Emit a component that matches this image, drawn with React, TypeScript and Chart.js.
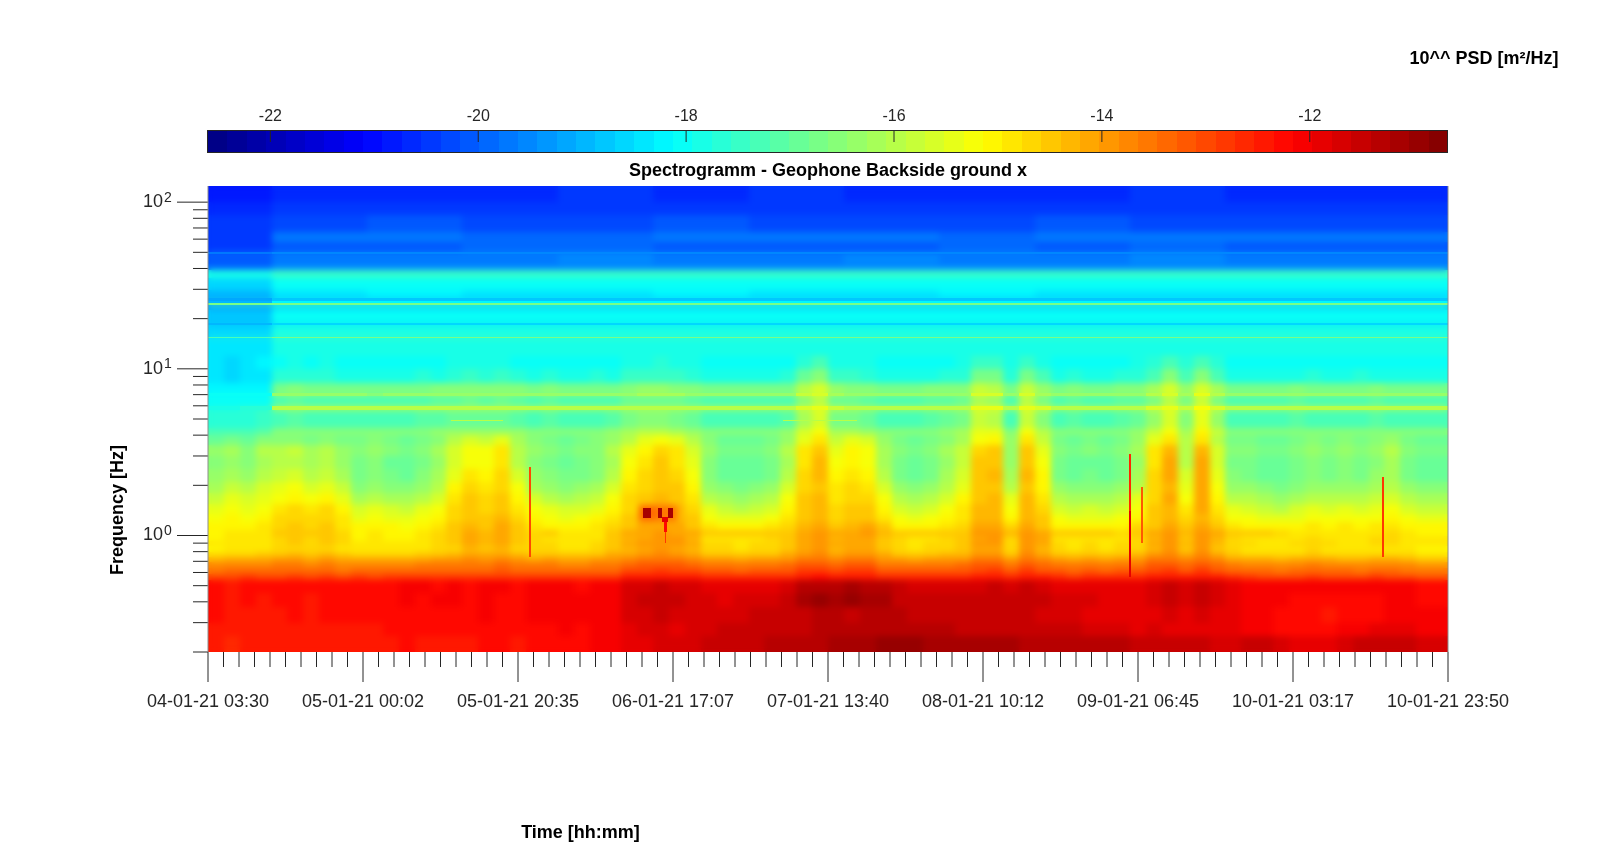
import React, { useEffect, useRef } from "react";
import { Chart, registerables } from "chart.js";

Chart.register(...registerables);

// Time axis: hours after the first sample
const timeSpanHours = 164.33;
const timeTickLabels = ["04-01-21 03:30","05-01-21 00:02","05-01-21 20:35","06-01-21 17:07","07-01-21 13:40","08-01-21 10:12","09-01-21 06:45","10-01-21 03:17","10-01-21 23:50"];
const freqTicks = [100,90,80,70,60,50,40,30,20,10,9,8,7,6,5,4,3,2,1,0.9,0.8,0.7,0.6,0.5,0.4,0.3,0.2];
const colourTicks = [-22,-20,-18,-16,-14,-12];

// All PSD values below are tenths of -log10 PSD (152 means 10^-15.2).
// Upper bands: band edges in Hz, and coarse time columns (indices into the 78 fine columns).
const upperFreqEdges = [125,100,84,66,58,50,49,42.5,39,35,29.7,26.6,25.5,25,24.3,22.6,20.7,18.9,18.3,15.6,15.3,12];
const upperCols = [0,4,10,16,22,28,34,40,46,52,58,64,70,78];
const up01 = [208,206,206,206,205,206,205,206,206,206,205,206,206];
const up02 = [207,204,204,205,205,204,204,205,204,205,204,204,205];
const up03 = [205,202,201,202,202,201,202,202,202,201,202,202,202];
const up04 = [204,198,198,199,199,198,197,198,199,198,198,198,198];
const up05 = [204,200,200,199,199,200,200,200,199,200,199,200,200];
const up06 = [197,195,195,195,195,195,195,195,195,195,195,195,195];
const up07 = [201,197,197,197,196,197,197,196,197,197,196,197,197];
const up08 = [199,195,196,195,195,196,195,195,196,195,195,195,195];
const up09 = [178,175,174,175,175,174,175,175,174,175,175,175,175];
const up10 = [186,181,181,181,181,181,181,181,181,181,181,181,181];
const up11 = [189,184,183,184,184,183,184,184,183,184,184,184,184];
const up12 = [192,187,187,187,187,187,187,187,187,187,187,187,187];
const up13 = [190,183,183,182,183,183,182,183,183,182,183,183,183];
const up14 = [168,168,168,168,168,168,168,168,168,168,168,168,168];
const up15 = [191,186,186,185,186,186,185,186,186,185,186,186,186];
const up16 = [188,181,181,181,181,180,181,181,181,181,181,181,181];
const up17 = [188,181,181,181,181,181,181,181,181,181,181,181,181];
const up18 = [189,186,186,186,186,186,186,186,186,186,186,186,186];
const up19 = [185,179,179,179,179,179,179,179,179,179,179,179,179];
const up20 = [172,167,167,167,167,167,167,167,167,167,167,167,167];
const up21 = [184,179,179,179,179,179,179,179,179,179,179,179,179];
const upperRows = [up01,up02,up03,up04,up05,up06,up07,up08,up09,up10,up11,up12,up13,up14,up15,up16,up17,up18,up19,up20,up21];

// Lower bands: 78 time columns each
const lowerFreqEdges = [12,10,8.2,7.2,6.9,6.0,5.7,4.4,4.0,3.5,3.0,2.5,2.1,1.8,1.55,1.35,1.2,1.08,1.0,0.93,0.86,0.8,0.74,0.69,0.64,0.59,0.54,0.45,0.37,0.3,0.25,0.2];
const lo01 = [184,185,184,183, 180,179,180,179,181, 180,181,180,181,180,180, 179,178,179,178,180, 180,181,180,181,180,180, 179,178,177,178,179, 181,180,181,180,181,180, 176,173,178,179,179,180, 180,181,180,180, 179,174,175,179,174,178, 180,181,180,181,180, 179,177,173,177,173,177,180, 180,181,180,181,180,181,180,180,181,180,181,180,180];
const lo02 = [184,185,184,184, 177,176,177,176,178, 178,179,178,178,177,178, 176,175,176,175,177, 178,177,178,178,177,178, 175,174,174,175,176, 178,178,179,178,178,177, 170,165,174,175,176,178, 178,179,178,177, 176,167,168,177,167,173, 178,177,178,178,177, 176,172,165,173,165,172,178, 178,178,179,178,177,178,178,177,178,178,178,179,178];
const lo03 = [183,183,182,182, 167,166,167,167,167, 167,168,167,167,167,166, 166,165,166,165,166, 167,166,167,167,167,167, 165,164,164,165,166, 167,167,167,168,167,167, 160,157,164,165,166,167, 167,167,166,166, 165,158,160,167,158,163, 167,166,167,167,166, 166,162,157,164,156,162,167, 167,167,167,166,167,167,167,167,166,167,167,168,167];
const lo04 = [181,180,181,180, 164,164,164,164,164, 164,165,164,164,164,164, 163,163,163,163,164, 164,164,164,164,164,164, 163,162,162,162,163, 164,164,164,164,164,164, 158,156,162,163,163,164, 164,164,164,164, 163,156,157,164,156,161, 164,164,164,164,164, 163,160,156,162,155,160,164, 164,164,164,164,164,164,164,164,164,164,164,164,164];
const lo05 = [181,181,180,180, 172,171,172,172,172, 172,173,172,172,172,171, 171,170,171,170,171, 172,171,172,172,172,172, 170,169,169,170,171, 172,172,172,173,172,172, 165,160,169,170,171,172, 172,172,171,171, 170,162,164,172,160,168, 172,171,172,172,171, 171,167,160,168,158,167,172, 172,172,172,171,172,172,172,172,171,172,172,173,172];
const lo06 = [178,178,177,177, 160,160,160,160,160, 160,160,160,160,160,160, 160,159,160,159,160, 160,160,160,160,160,160, 159,159,159,159,160, 160,160,160,160,160,160, 156,154,158,159,159,160, 160,160,160,160, 159,155,155,160,154,157, 160,160,160,160,160, 159,157,154,158,153,157,160, 160,160,160,160,160,160,160,160,160,160,160,160,160];
const lo07 = [177,176,176,175, 172,171,172,172,172, 172,173,172,172,171,171, 170,169,170,169,171, 172,171,172,172,172,171, 168,166,166,167,169, 172,172,172,173,172,171, 162,157,168,167,169,172, 172,172,171,170, 168,158,160,172,158,166, 172,171,172,172,171, 170,164,156,166,155,164,172, 172,172,172,171,172,172,172,172,171,172,172,173,172];
const lo08 = [173,172,172,171, 165,165,165,165,165, 165,166,165,165,165,164, 164,163,164,163,164, 165,165,165,165,165,164, 162,160,160,161,163, 165,165,165,166,165,164, 157,152,162,161,163,165, 165,165,165,164, 162,154,155,165,153,160, 165,165,165,165,165, 164,158,152,161,151,158,165, 165,165,165,165,165,165,165,165,165,165,165,166,165];
const lo09 = [170,168,170,166, 166,165,167,166,168, 168,166,168,170,167,165, 160,156,158,154,162, 166,168,170,168,166,164, 160,155,152,154,160, 166,170,170,170,168,164, 154,149,158,154,156,164, 168,170,168,166, 162,152,150,164,149,158, 168,170,168,170,168, 164,154,149,160,149,160,168, 168,170,170,168,166,168,166,168,166,164,168,170,170];
const lo10 = [164,162,166,160, 160,158,162,160,163, 166,164,166,168,165,162, 156,152,153,149,159, 164,166,168,166,165,160, 155,150,146,149,156, 164,168,168,168,166,160, 149,144,154,151,152,161, 166,168,166,162, 158,146,144,163,144,154, 166,168,166,168,166, 161,149,143,159,143,157,166, 166,168,168,166,164,166,164,166,164,160,166,168,168];
const lo11 = [166,163,165,162, 160,159,162,160,164, 168,166,169,170,167,164, 156,152,153,149,159, 166,168,170,168,166,162, 152,148,145,148,154, 166,170,170,170,168,162, 148,143,152,150,152,161, 168,170,168,164, 158,145,144,164,144,153, 168,170,169,170,168, 163,148,142,159,141,157,168, 168,170,170,168,166,168,166,168,165,162,168,170,170];
const lo12 = [164,161,163,160, 158,156,160,158,162, 167,165,168,169,166,162, 154,149,151,147,156, 164,166,168,167,165,160, 151,147,144,146,152, 165,169,170,169,167,160, 146,143,150,148,150,160, 167,169,167,162, 156,144,143,162,143,151, 167,169,168,169,167, 161,147,142,157,141,154,166, 167,169,170,168,165,167,165,167,164,161,167,169,169];
const lo13 = [162,158,160,157, 155,153,156,154,158, 165,163,165,166,163,160, 151,147,149,146,153, 161,163,165,164,162,157, 149,146,144,145,150, 163,166,167,166,164,157, 146,144,149,147,148,157, 164,166,164,160, 154,144,144,159,144,150, 164,166,165,166,164, 159,147,143,155,142,152,163, 164,166,167,165,163,164,163,164,162,159,164,166,166];
const lo14 = [158,155,157,154, 152,150,153,151,154, 161,159,161,162,159,156, 148,145,147,144,150, 157,159,161,160,158,153, 147,145,143,144,148, 159,162,163,162,160,153, 145,143,148,146,146,153, 160,162,160,156, 151,144,143,155,143,148, 160,162,161,162,160, 155,146,142,152,142,150,159, 160,162,163,161,159,160,159,160,158,156,160,162,162];
const lo15 = [155,153,154,152, 148,146,148,147,150, 157,155,157,158,155,152, 147,144,146,144,148, 153,155,157,156,154,150, 146,144,142,143,146, 155,158,159,158,156,150, 144,143,147,145,145,150, 156,158,156,152, 149,143,143,152,143,146, 156,158,157,158,156, 152,145,143,149,142,148,155, 156,158,159,157,155,156,155,156,155,153,156,158,158];
const lo16 = [153,151,152,150, 147,146,147,146,149, 154,152,154,155,152,150, 146,144,145,143,147, 150,152,154,153,151,148, 145,143,142,143,145, 152,155,155,155,153,148, 144,143,146,144,144,148, 153,155,153,150, 148,143,143,150,143,145, 153,155,154,155,153, 150,145,143,147,143,146,152, 153,155,155,154,152,153,152,153,152,150,153,155,155];
const lo17 = [151,150,150,149, 146,145,146,145,148, 151,150,151,152,150,148, 145,143,144,142,145, 148,150,151,150,149,146, 144,142,141,142,144, 149,150,151,150,149,146, 143,142,144,143,142,145, 150,151,150,148, 146,142,142,147,142,144, 150,151,150,151,150, 147,144,142,145,142,144,149, 150,151,151,150,149,150,149,150,149,148,150,151,151];
const lo18 = [150,149,149,148, 145,145,145,145,147, 150,149,150,150,149,147, 144,142,143,141,144, 147,144,149,149,148,145, 142,141,140,141,142, 144,144,145,144,144,144, 141,140,142,141,140,143, 144,145,144,145, 145,140,140,143,140,141, 144,144,145,144,146, 145,142,140,143,140,142,144, 144,145,146,148,149,149,148,149,148,147,149,150,150];
const lo19 = [150,149,149,148, 146,145,146,145,147, 150,149,150,150,149,147, 145,142,143,142,145, 147,148,149,149,148,145, 143,141,139,140,143, 148,148,149,148,147,145, 142,140,143,141,141,144, 147,149,148,146, 145,141,140,146,140,142, 148,149,148,149,148, 146,143,140,144,140,143,147, 148,149,149,148,147,148,148,148,147,147,148,149,149];
const lo20 = [149,149,148,148, 146,145,146,145,147, 149,149,149,149,148,147, 145,142,143,142,145, 147,147,148,148,147,145, 142,140,139,140,142, 147,147,148,147,147,145, 141,139,142,141,141,144, 147,148,147,146, 145,140,140,146,139,142, 147,148,147,148,147, 146,142,139,143,139,143,146, 147,148,148,147,146,147,148,148,147,147,148,149,149];
const lo21 = [150,149,149,148, 147,146,147,146,148, 149,149,149,149,148,147, 146,143,144,143,146, 147,147,148,148,147,145, 143,141,140,141,143, 147,147,148,147,147,145, 142,140,143,142,142,144, 147,148,147,146, 145,141,141,146,140,143, 147,148,147,148,147, 146,143,140,144,140,144,147, 148,148,149,148,147,148,149,149,148,148,149,150,150];
const lo22 = [147,146,146,145, 144,143,144,143,145, 146,146,146,146,145,144, 143,141,142,141,143, 144,144,145,145,144,142, 141,139,138,139,141, 144,144,145,144,144,142, 140,138,141,140,140,142, 144,145,144,143, 143,139,139,144,138,141, 144,145,144,145,144, 143,140,138,142,138,141,145, 146,146,147,146,145,146,147,147,146,146,147,148,148];
const lo23 = [143,142,142,141, 140,140,141,140,141, 142,142,142,141,141,140, 140,138,139,138,140, 141,140,141,141,140,139, 137,136,135,136,137, 140,140,141,140,140,139, 136,135,137,136,136,139, 140,141,140,140, 139,136,136,140,135,138, 140,141,140,141,140, 139,136,135,138,135,138,141, 142,142,143,142,141,142,143,143,142,142,143,144,144];
const lo24 = [138,138,137,137, 136,136,137,136,137, 137,137,137,137,136,136, 136,135,135,134,136, 136,136,137,137,136,135, 133,132,131,132,133, 135,135,136,135,135,134, 132,131,133,132,132,135, 135,136,135,135, 134,132,132,135,131,134, 135,136,135,136,135, 135,132,131,134,131,134,136, 137,137,138,137,136,137,138,138,137,137,138,139,139];
const lo25 = [135,134,134,134, 134,134,134,134,135, 134,134,134,133,133,134, 133,133,133,132,134, 133,133,134,134,133,133, 130,130,129,130,130, 132,132,133,132,132,131, 129,128,130,129,129,132, 132,132,132,132, 131,130,129,132,129,131, 132,133,132,133,132, 132,130,129,131,129,131,133, 134,134,135,134,133,134,134,135,134,134,135,136,136];
const lo26 = [130,130,129,130, 130,129,130,129,130, 129,130,129,128,128,129, 128,129,128,128,129, 128,128,129,129,128,128, 125,125,124,125,125, 127,127,127,127,127,126, 124,123,124,124,124,126, 127,127,127,127, 126,125,124,127,124,125, 127,128,127,127,127, 127,125,124,125,124,125,127, 129,130,130,130,129,130,130,130,129,130,130,131,131];
const lo27 = [123,124,123,123, 123,122,123,123,123, 122,123,122,121,121,122, 121,122,121,121,122, 120,121,121,122,121,120, 117,117,116,117,117, 118,118,118,118,118,117, 114,113,113,112,113,113, 116,117,117,117, 117,117,116,117,116,117, 118,118,118,118,118, 118,117,116,117,116,117,118, 120,120,121,121,120,121,121,121,120,121,121,122,122];
const lo28 = [123,124,123,124, 123,122,124,122,123, 122,123,122,121,122,121, 121,122,121,122,122, 120,121,121,121,121,120, 117,116,116,116,117, 117,118,117,117,117,116, 112,110,111,110,111,112, 115,116,116,116, 116,116,115,116,115,116, 117,117,117,118,118, 118,117,116,117,116,117,118, 121,121,121,122,122,123,123,123,122,121,121,122,122];
const lo29 = [123,124,124,124, 124,123,124,123,123, 123,123,122,123,122,122, 122,122,121,122,122, 121,121,121,121,120,120, 117,117,116,117,117, 117,117,117,116,116,116, 115,114,114,115,114,114, 114,115,115,116, 116,116,116,116,116,117, 117,117,118,118,118, 118,118,117,118,117,118,119, 121,121,122,123,123,124,123,123,122,121,121,121,121];
const lo30 = [124,124,124,125, 124,124,124,124,124, 124,124,123,123,123,123, 122,123,122,123,123, 122,122,121,122,121,120, 118,117,117,118,117, 117,116,116,116,115,115, 115,114,114,114,113,113, 113,113,114,114, 115,115,115,115,116,116, 116,116,117,117,117, 118,117,118,118,118,118,119, 120,121,122,122,123,122,121,120,119,119,119,120,120];
const lo31 = [125,126,125,125, 125,125,124,124,125, 124,124,124,123,124,124, 124,124,123,123,124, 123,123,122,122,121,120, 118,118,117,117,117, 116,116,115,115,114,114, 114,113,112,112,111,110, 110,110,111,111, 111,112,112,112,113,113, 113,114,114,114,114, 115,115,116,116,116,117,117, 116,116,117,118,118,118,117,116,116,115,116,117,117];
const lowerRows = [lo01,lo02,lo03,lo04,lo05,lo06,lo07,lo08,lo09,lo10,lo11,lo12,lo13,lo14,lo15,lo16,lo17,lo18,lo19,lo20,lo21,lo22,lo23,lo24,lo25,lo26,lo27,lo28,lo29,lo30,lo31];

// Narrow features: start hour, end hour, low Hz, high Hz, value
const haloEvents = [
  [57.1,59.2,1.23,1.52,133],[59.2,62.1,1.23,1.52,135],
];
const narrowEvents = [
  [32.2,39.1,4.88,4.95,160],[76.2,86.0,4.88,4.95,160],
  [57.65,58.71,1.28,1.46,112],[59.64,60.2,1.28,1.46,112],[61.0,61.6,1.28,1.46,112],
  [60.17,60.96,1.2,1.3,118],[60.37,60.83,1.05,1.2,122],[60.57,60.7,0.9,1.05,128],
  [42.58,42.74,0.74,2.57,130],
  [122.02,122.28,0.56,1.4,118],[122.02,122.28,1.4,3.1,126],
  [123.65,123.85,0.9,1.95,132],
  [155.63,155.8,0.74,2.24,128],
];

const colourMin = -22.6;
const colourMax = -10.67;
const colourLevels = 64;

function jet(i: number): string {
  const t = (i + 0.5) / colourLevels;
  const c = (v: number) => Math.round(255 * Math.max(0, Math.min(1, 1.5 - Math.abs(4 * t - v))));
  return `rgb(${c(3)},${c(2)},${c(1)})`;
}
function levelOf(tenths: number): number {
  const t = (-tenths / 10 - colourMin) / (colourMax - colourMin);
  return Math.max(0, Math.min(colourLevels - 1, Math.floor(t * colourLevels)));
}

const hoursPerCol = timeSpanHours / 78;
function buildCells() {
  const cells: any[] = [];
  upperRows.forEach((row, r) => row.forEach((v, c) => cells.push({
    x: upperCols[c] * hoursPerCol, x1: upperCols[c + 1] * hoursPerCol,
    y: upperFreqEdges[r + 1], y1: upperFreqEdges[r], v,
  })));
  lowerRows.forEach((row, r) => row.forEach((v, c) => cells.push({
    x: c * hoursPerCol, x1: (c + 1) * hoursPerCol,
    y: lowerFreqEdges[r + 1], y1: lowerFreqEdges[r], v,
  })));
  haloEvents.forEach(([x, x1, y, y1, v]) => cells.push({ x, x1, y, y1, v }));
  narrowEvents.forEach(([x, x1, y, y1, v]) => cells.push({ x, x1, y, y1, v, sharp: true }));
  return cells;
}

const INK = "#262626";
const EDGE = "#8c8c8c";
const FAMILY = '"Liberation Sans", Arial, sans-serif';
const BOLD = `bold 18px ${FAMILY}`;

const spectrogramPlugin = {
  id: "spectrogram",
  beforeDatasetsDraw(chart: any) {
    const { ctx, scales, chartArea } = chart;
    const { x, y, cb } = scales;
    // Broad cells are painted on a layer and softened; thin lines and spikes stay sharp on top.
    const layer = document.createElement("canvas");
    layer.width = chart.width;
    layer.height = chart.height;
    const lctx = layer.getContext("2d") as CanvasRenderingContext2D;
    const thin: number[][] = [];
    for (const cell of chart.data.datasets[0].data) {
      const x0 = Math.round(x.getPixelForValue(cell.x));
      const x1 = Math.max(x0 + 1, Math.round(x.getPixelForValue(cell.x1)));
      const y0 = Math.round(y.getPixelForValue(cell.y1));
      const y1 = Math.max(y0 + 1, Math.round(y.getPixelForValue(cell.y)));
      if (cell.sharp || y1 - y0 <= 4) {
        thin.push([x0, y0, x1 - x0, y1 - y0, cell.v]);
      }
      if (!cell.sharp) {
        lctx.fillStyle = jet(levelOf(cell.v));
        lctx.fillRect(x0, y0, x1 - x0, y1 - y0);
      }
    }
    ctx.save();
    ctx.beginPath();
    ctx.rect(chartArea.left, chartArea.top, chartArea.width, chartArea.height);
    ctx.clip();
    ctx.drawImage(layer, 0, 0);
    (ctx as any).filter = "blur(3px)";
    ctx.drawImage(layer, 0, 0);
    (ctx as any).filter = "none";
    for (const [a, b, w, h, v] of thin) {
      ctx.fillStyle = jet(levelOf(v));
      ctx.fillRect(a, b, w, h);
    }
    ctx.restore();

    // Colour bar
    ctx.save();
    const barTop = 130, barBottom = 152;
    for (let i = 0; i < colourLevels; i++) {
      const a = colourMin + (i / colourLevels) * (colourMax - colourMin);
      const b = colourMin + ((i + 1) / colourLevels) * (colourMax - colourMin);
      const p0 = Math.round(cb.getPixelForValue(a));
      const p1 = Math.round(cb.getPixelForValue(b));
      ctx.fillStyle = jet(i);
      ctx.fillRect(p0, barTop, p1 - p0, barBottom - barTop);
    }
    ctx.strokeStyle = INK;
    ctx.lineWidth = 1;
    ctx.strokeRect(chartArea.left - 0.5, barTop + 0.5, chartArea.width, barBottom - barTop);
    ctx.beginPath();
    for (const v of colourTicks) {
      const p = cb.getPixelForValue(v);
      ctx.moveTo(p, barTop);
      ctx.lineTo(p, barTop + 12);
    }
    ctx.stroke();
    ctx.restore();
  },
  afterDraw(chart: any) {
    const { ctx, scales, chartArea } = chart;
    const { x, y } = scales;
    ctx.save();
    ctx.strokeStyle = INK;
    ctx.lineWidth = 1;
    ctx.beginPath();
    x.ticks.forEach((t: any, i: number) => {
      const p = x.getPixelForValue(t.value);
      ctx.moveTo(p, chartArea.bottom);
      ctx.lineTo(p, chartArea.bottom + (i % 10 === 0 ? 30 : 15));
    });
    y.ticks.forEach((t: any) => {
      const p = y.getPixelForValue(t.value);
      const major = [1, 10, 100].includes(t.value);
      ctx.moveTo(chartArea.left, p);
      ctx.lineTo(chartArea.left - (major ? 31 : 15), p);
    });
    ctx.stroke();
    ctx.strokeStyle = EDGE;
    ctx.beginPath();
    ctx.moveTo(chartArea.left, chartArea.top);
    ctx.lineTo(chartArea.left, chartArea.bottom);
    ctx.moveTo(chartArea.right, chartArea.top);
    ctx.lineTo(chartArea.right, chartArea.bottom);
    ctx.stroke();

    ctx.fillStyle = INK;
    ctx.textBaseline = "alphabetic";
    ctx.textAlign = "left";
    ctx.font = `14px ${FAMILY}`;
    [[100, "2"], [10, "1"], [1, "0"]].forEach(([v, e]: any) => {
      ctx.fillText(e, 164, y.getPixelForValue(v) - 0.5);
    });

    ctx.fillStyle = "#000";
    ctx.textBaseline = "middle";
    ctx.textAlign = "center";
    ctx.font = BOLD;
    ctx.fillText("Spectrogramm - Geophone Backside ground x", (chartArea.left + chartArea.right) / 2, 171.5);
    ctx.fillText("Time [hh:mm]", 580.5, 833);
    ctx.fillText("10^^ PSD [m²/Hz]", 1484, 59.5);
    ctx.translate(118, 510);
    ctx.rotate(-Math.PI / 2);
    ctx.fillText("Frequency [Hz]", 0, 0);
    ctx.restore();
  },
};

export default function App() {
  const ref = useRef<HTMLCanvasElement>(null);
  useEffect(() => {
    const chart = new Chart(ref.current as any, {
      type: "scatter",
      data: { datasets: [{ label: "PSD", data: buildCells(), pointRadius: 0, pointHoverRadius: 0 }] },
      options: {
        animation: false,
        responsive: false,
        devicePixelRatio: 1,
        events: [],
        layout: { padding: { left: 0, top: 0, right: 152, bottom: 0 } },
        plugins: { legend: { display: false }, tooltip: { enabled: false }, title: { display: false } },
        scales: {
          x: {
            type: "linear",
            position: "bottom",
            min: 0,
            max: timeSpanHours,
            grid: { display: false, drawTicks: false },
            border: { display: false },
            afterFit: (s: any) => { s.height = 190; },
            afterBuildTicks: (s: any) => {
              const ticks = [];
              for (let i = 0; i <= 80; i++) ticks.push({ value: (i * timeSpanHours) / 80 });
              s.ticks = ticks;
            },
            ticks: {
              autoSkip: false, maxRotation: 0, minRotation: 0, padding: 39, color: INK,
              font: { family: FAMILY, size: 18 },
              callback: (_v: any, i: number) => (i % 10 === 0 ? timeTickLabels[i / 10] : ""),
            },
          },
          y: {
            type: "logarithmic",
            position: "left",
            min: 0.2,
            max: 125,
            grid: { display: false, drawTicks: false },
            border: { display: false },
            afterFit: (s: any) => { s.width = 208; },
            afterBuildTicks: (s: any) => { s.ticks = freqTicks.map((value) => ({ value })); },
            ticks: {
              autoSkip: false, padding: 45, color: INK,
              font: { family: FAMILY, size: 18 },
              callback: (v: any) => ([1, 10, 100].includes(Number(v)) ? "10" : ""),
            },
          },
          cb: {
            type: "linear",
            axis: "x",
            position: "top",
            min: colourMin,
            max: colourMax,
            grid: { display: false, drawTicks: false },
            border: { display: false },
            afterFit: (s: any) => { s.height = 186; },
            afterBuildTicks: (s: any) => { s.ticks = colourTicks.map((value) => ({ value })); },
            ticks: {
              autoSkip: false, maxRotation: 0, minRotation: 0, padding: 60, color: INK,
              font: { family: FAMILY, size: 16 },
              callback: (v: any) => String(v),
            },
          },
        },
      },
      plugins: [spectrogramPlugin],
    } as any);
    return () => chart.destroy();
  }, []);
  return (
    <canvas
      ref={ref}
      width={1600}
      height={842}
      style={{ position: "fixed", left: 0, top: 0, width: 1600, height: 842, display: "block", background: "#fff" }}
    />
  );
}
